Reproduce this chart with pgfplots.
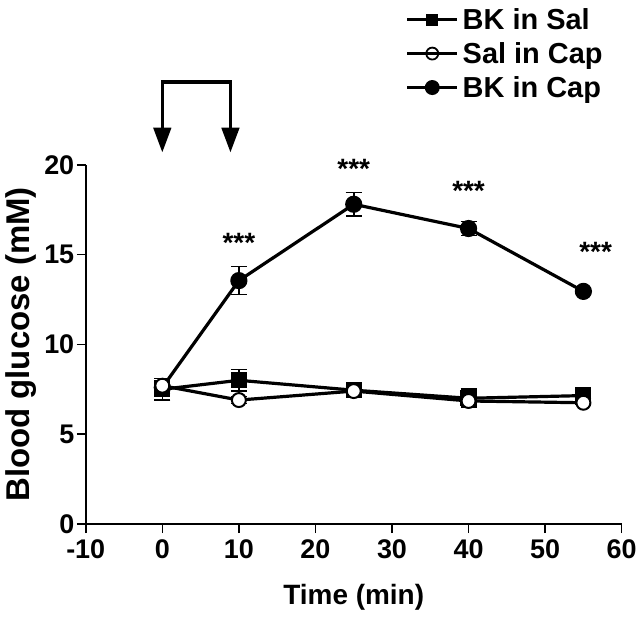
\documentclass[border=0pt]{standalone}
\usepackage{fontspec}
\setmainfont{Liberation Sans}
\usepackage{pgfplots}
\pgfplotsset{compat=1.18}
\begin{document}
\begin{tikzpicture}
\begin{axis}[
  scale only axis, width=537pt, height=360pt,
  xmin=-10, xmax=60, ymin=0, ymax=20,
  xtick={-10,0,10,20,30,40,50,60}, ytick={0,5,10,15,20},
  axis lines*=left,
  axis line style={line width=1.6pt},
  tick align=outside, major tick length=9pt,
  tick style={line width=1.6pt, black},
  /pgf/number format/assume math mode=true,
  ticklabel style={font=\fontsize{27}{27}\selectfont\bfseries},
  xticklabel style={yshift=-3pt},
  yticklabel style={xshift=1pt},
  xlabel={Time (min)}, ylabel={Blood glucose (mM)},
  xlabel style={font=\fontsize{28}{28}\selectfont\bfseries, yshift=-19pt},
  ylabel style={font=\fontsize{33}{33}\selectfont\bfseries, yshift=1pt},
  clip=false,
  legend style={draw=none, fill=none, at={(0.595,1.444)}, anchor=north west,
    font=\fontsize{29}{29}\selectfont\bfseries, row sep=7.5pt,
    inner sep=1pt, legend cell align=left,
    nodes={inner xsep=4pt}},
  legend image code/.code={\draw[mark repeat=2,mark phase=2] plot coordinates {(0pt,0pt) (25pt,0pt) (50pt,0pt)};},
  error bars/error bar style={line width=1.6pt},
  error bars/error mark options={rotate=90, mark size=8pt, line width=1.6pt},
]
% invisible frame giving the picture its proportions
\path (axis cs:-21.2,-5.17) rectangle (axis cs:62.2,29.17);

\addlegendimage{black, line width=3pt, mark=square*, mark size=4.5pt, mark options={solid}}
\addlegendentry{BK in Sal}
\addlegendimage{black, line width=3pt, mark=o, mark size=6pt, mark options={fill=white, line width=1.8pt}}
\addlegendentry{Sal in Cap}
\addlegendimage{black, line width=3pt, mark=*, mark size=6pt}
\addlegendentry{BK in Cap}

% BK in Cap
\addplot[forget plot, black, line width=3.2pt, mark=*, mark size=7pt,
  error bars/.cd, y dir=both, y explicit]
  table[x=x, y=y, y error=e] {
x y e
0 7.6 0.3
10 13.55 0.78
25 17.8 0.65
40 16.45 0.4
55 12.95 0.1
};
% BK in Sal
\addplot[forget plot, black, line width=3.2pt, mark=square*, mark size=6.5pt,
  error bars/.cd, y dir=both, y explicit]
  table[x=x, y=y, y error=e] {
x y e
0 7.5 0.6
10 8.0 0.6
25 7.45 0.2
40 7.0 0.5
55 7.15 0.15
};
% Sal in Cap
\addplot[forget plot, black, line width=3.2pt, mark=*, mark size=7pt,
  mark options={fill=white, draw=black, line width=2pt},
  error bars/.cd, y dir=both, y explicit]
  table[x=x, y=y, y error=e] {
x y e
0 7.7 0.3
10 6.9 0.2
25 7.4 0.15
40 6.85 0.3
55 6.75 0.1
};

% significance stars
\node[font=\fontsize{28}{28}\selectfont\bfseries] at (axis cs:10,15.65) {***};
\node[font=\fontsize{28}{28}\selectfont\bfseries] at (axis cs:25,19.75) {***};
\node[font=\fontsize{28}{28}\selectfont\bfseries] at (axis cs:40,18.55) {***};
\node[font=\fontsize{28}{28}\selectfont\bfseries] at (axis cs:56.6,15.15) {***};

% treatment arrows
\draw[line width=3.5pt, line cap=rect] (axis cs:0,24.6) -- (axis cs:8.9,24.6);
\draw[line width=3pt] (axis cs:0,24.6) -- (axis cs:0,22.0);
\draw[line width=3pt] (axis cs:8.9,24.6) -- (axis cs:8.9,22.0);
\fill (axis cs:-1.2,22.06) -- (axis cs:1.2,22.06) -- (axis cs:0,20.7) -- cycle;
\fill (axis cs:7.7,22.06) -- (axis cs:10.1,22.06) -- (axis cs:8.9,20.7) -- cycle;
\end{axis}
\end{tikzpicture}
\end{document}
